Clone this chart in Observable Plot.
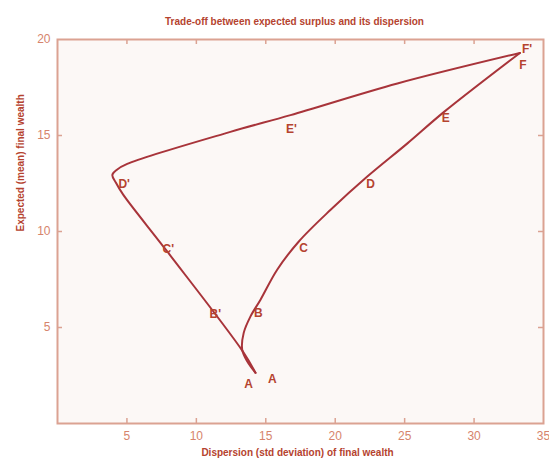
<!DOCTYPE html>
<html>
<head>
<meta charset="utf-8">
<script src="https://cdn.jsdelivr.net/npm/d3@7"></script>
<script src="https://cdn.jsdelivr.net/npm/@observablehq/plot@0.6"></script>
<style>
  html, body { margin: 0; padding: 0; background: #ffffff; }
</style>
</head>
<body>
<div id="chart"></div>
<script>
// ---- Data ----
const titleText = "Trade-off between expected surplus and its dispersion";
const xLabel = "Dispersion (std deviation) of final wealth";
const yLabel = "Expected (mean) final wealth";

const xTicks = [5, 10, 15, 20, 25, 30, 35];
const yTicks = [5, 10, 15, 20];

// Right frontier A -> B -> C -> D -> E -> F
const rightX = [14.26, 13.66, 13.30, 13.41, 13.90, 14.62, 15.82, 17.38, 19.67, 22.31, 25.2, 27.84, 33.3];
const rightY = [2.64, 3.24, 3.85, 4.72, 5.58, 6.45, 8.01, 9.48, 11.13, 12.86, 14.59, 16.23, 19.3];

// Left frontier A -> B' -> C' -> D' -> E' -> F'
const leftX = [14.26, 13.32, 7.9, 4.73, 4.2, 3.95, 4.28, 5.02, 12.45, 16.78, 24.48, 33.3];
const leftY = [2.64, 3.78, 8.96, 11.92, 12.55, 12.95, 13.22, 13.52, 15.19, 16.06, 17.71, 19.3];

// Point labels
const pointNames = ["A", "A", "B", "C", "D", "E", "F", "F'", "B'", "C'", "D'", "E'"];
const pointX = [13.76, 15.48, 14.47, 17.72, 22.55, 27.96, 33.52, 33.81, 11.37, 7.98, 4.80, 16.85];
const pointY = [2.07, 2.33, 5.75, 9.12, 12.49, 15.91, 18.65, 19.48, 5.70, 9.07, 12.49, 15.34];

// ---- Build tables ----
const rightData = rightX.map((x, i) => ({x, y: rightY[i]}));
const leftData = leftX.map((x, i) => ({x, y: leftY[i]}));
const labelData = pointNames.map((name, i) => ({name, x: pointX[i], y: pointY[i]}));

const W = 549, H = 463;
const mL = 57, mR = 6, mT = 39, mB = 40;
const fw = W - mL - mR, fh = H - mT - mB;

const curveColor = "#a8343a";
const frameColor = "#dba292";
const tickTextColor = "#d6846c";
const labelColor = "#b5432f";
const font = "'Liberation Sans Narrow', 'Arial Narrow', sans-serif";

const plot = Plot.plot({
  width: W, height: H,
  marginLeft: mL, marginRight: mR, marginTop: mT, marginBottom: mB,
  style: {background: "#ffffff", fontFamily: font},
  x: {domain: [0, 35]},
  y: {domain: [0, 20]},
  marks: [
    Plot.frame({fill: "#fcf8f6", stroke: null}),
    // inward ticks bottom/top
    Plot.tickX(xTicks.filter(d => d < 35), {x: d => d, stroke: frameColor, strokeWidth: 1.5, insetTop: fh - 5}),
    Plot.tickX(xTicks.filter(d => d < 35), {x: d => d, stroke: frameColor, strokeWidth: 1.5, insetBottom: fh - 5}),
    // inward ticks left/right
    Plot.tickY(yTicks.filter(d => d < 20), {y: d => d, stroke: frameColor, strokeWidth: 1.5, insetRight: fw - 5}),
    Plot.tickY(yTicks.filter(d => d < 20), {y: d => d, stroke: frameColor, strokeWidth: 1.5, insetLeft: fw - 5}),
    Plot.frame({stroke: frameColor, strokeWidth: 2}),
    Plot.axisX({ticks: xTicks, tickSize: 0, tickPadding: 8, label: null, fontSize: 12, color: tickTextColor}),
    Plot.axisY({ticks: yTicks, tickSize: 0, tickPadding: 7, label: null, fontSize: 12, color: tickTextColor}),
    Plot.line(leftData, {x: "x", y: "y", stroke: curveColor, strokeWidth: 2, curve: "catmull-rom"}),
    Plot.line(rightData, {x: "x", y: "y", stroke: curveColor, strokeWidth: 2, curve: "catmull-rom"}),
    Plot.text(labelData, {x: "x", y: "y", text: "name", fill: labelColor, fontSize: 12, fontWeight: "bold"}),
    Plot.text([titleText], {frameAnchor: "top", dy: -22, dx: -6, fill: labelColor, fontSize: 10, fontWeight: "bold"}),
    Plot.text([xLabel], {frameAnchor: "bottom", dy: 32, dx: -3, fill: labelColor, fontSize: 10, fontWeight: "bold"}),
    Plot.text([yLabel], {frameAnchor: "left", rotate: -90, dx: -37, fill: labelColor, fontSize: 10, fontWeight: "bold"})
  ]
});

document.getElementById("chart").appendChild(plot);
</script>
</body>
</html>
